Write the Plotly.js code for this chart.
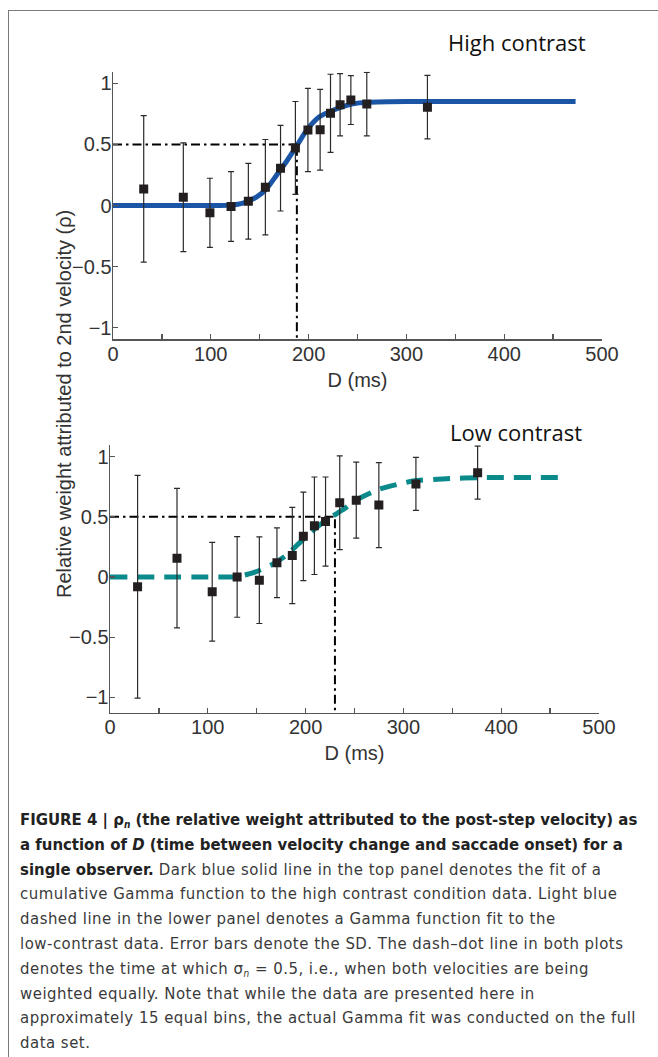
<!DOCTYPE html>
<html>
<head>
<meta charset="utf-8">
<script src="https://cdn.plot.ly/plotly-3.0.1.min.js"></script>
<style>
  html, body { margin: 0; padding: 0; background: #fff; }
  #wrap { position: relative; width: 658px; height: 1057px; overflow: hidden; }
  #chart { position: absolute; left: 0; top: 0; width: 658px; height: 1057px; }
  #frameTop { position: absolute; left: 8px; top: 10px; width: 650px; height: 0; border-top: 1.3px solid #7a7a7a; }
  #frameLeft { position: absolute; left: 8px; top: 10px; width: 0; height: 1047px; border-left: 1.3px solid #7a7a7a; }
  #caption { position: absolute; left: 20px; top: 808px; width: 634px;
             font-family: "Liberation Sans Narrow", "DejaVu Sans Condensed", sans-serif;
             font-size: 16.6px; line-height: 24.8px; color: #3a3a3a; white-space: nowrap; }
  #caption b { color: #222; letter-spacing: 0; }
  #caption .r { letter-spacing: 0.5px; }
  #caption sub { font-size: 10px; vertical-align: -3px; line-height: 0; }
</style>
</head>
<body>
<div id="wrap">
  <div id="chart"></div>
  <div id="frameTop"></div>
  <div id="frameLeft"></div>
  <div id="caption">
    <b>FIGURE 4 | ρ<sub><i>n</i></sub> (the relative weight attributed to the post-step velocity) as</b><br>
    <b>a function of <i>D</i> (time between velocity change and saccade onset) for a</b><br>
    <b>single observer.</b><span class="r"> Dark blue solid line in the top panel denotes the fit of a</span><br>
    <span class="r">cumulative Gamma function to the high contrast condition data. Light blue</span><br>
    <span class="r">dashed line in the lower panel denotes a Gamma function fit to the</span><br>
    <span class="r">low-contrast data. Error bars denote the SD. The dash–dot line in both plots</span><br>
    <span class="r">denotes the time at which σ<sub><i>n</i></sub> = 0.5, i.e., when both velocities are being</span><br>
    <span class="r">weighted equally. Note that while the data are presented here in</span><br>
    <span class="r">approximately 15 equal bins, the actual Gamma fit was conducted on the full</span><br>
    <span class="r">data set.</span>
  </div>
</div>
<script>
// ---- High contrast (top panel) ----
var highD   = [31.4, 71.9, 99.1, 120.7, 138.4, 155.8, 171.3, 186.5, 199.3, 211.8, 222.4, 232.2, 243.2, 259.5, 321.5];
var highRho = [0.136, 0.068, -0.06, -0.008, 0.035, 0.15, 0.305, 0.471, 0.618, 0.62, 0.754, 0.824, 0.863, 0.83, 0.805];
var highSD  = [0.60, 0.445, 0.283, 0.285, 0.31, 0.39, 0.35, 0.38, 0.34, 0.33, 0.32, 0.255, 0.20, 0.26, 0.26];
var highFitD   = [0, 110, 120, 133, 147, 157, 167, 177, 188, 198, 211, 225, 239, 252, 270, 300, 473];
var highFitRho = [0, 0, 0.003, 0.02, 0.07, 0.137, 0.246, 0.356, 0.49, 0.616, 0.726, 0.78, 0.82, 0.84, 0.848, 0.852, 0.852];
var highHalfD = 188;

// ---- Low contrast (bottom panel) ----
var lowD   = [28.2, 68.5, 104.5, 130, 152.7, 170.7, 186.4, 197.7, 209, 220.4, 234.9, 251.8, 274.9, 312.8, 375.9];
var lowRho = [-0.082, 0.156, -0.123, 0, -0.027, 0.118, 0.178, 0.337, 0.425, 0.46, 0.616, 0.638, 0.597, 0.773, 0.866];
var lowSD  = [0.925, 0.58, 0.41, 0.335, 0.36, 0.29, 0.40, 0.367, 0.405, 0.37, 0.39, 0.315, 0.353, 0.22, 0.22];
var lowFitD   = [0, 125, 130, 146.5, 165, 180.4, 195.9, 211, 224.8, 242, 252, 276, 310, 344, 378, 465];
var lowFitRho = [0, 0, 0.002, 0.035, 0.1, 0.18, 0.30, 0.41, 0.49, 0.58, 0.64, 0.73, 0.797, 0.816, 0.825, 0.825];
var lowHalfD = 230;

// ---- Axis ticks ----
var yTickVals = [-1, -0.5, 0, 0.5, 1];
var yTickText = ['\u22121', '\u22120.5', '0', '0.5', '1'];
var xTickVals = [0, 100, 200, 300, 400, 500];

var W = 658, H = 1057;
function px(x) { return x / W; }
function py(y) { return 1 - y / H; }

var markColor = '#231f20';
var dashDot = '9px,4px,2.5px,4px';

function panelTraces(xa, ya, fitD, fitRho, fitLine, halfD, d, rho, sd, yMin) {
  return [
    { x: fitD, y: fitRho, xaxis: xa, yaxis: ya, mode: 'lines', type: 'scatter',
      line: fitLine, hoverinfo: 'skip', showlegend: false },
    { x: [0, halfD], y: [0.5, 0.5], xaxis: xa, yaxis: ya, mode: 'lines', type: 'scatter',
      line: { color: '#000', width: 2, dash: dashDot }, showlegend: false },
    { x: [halfD, halfD], y: [0.48, yMin], xaxis: xa, yaxis: ya, mode: 'lines', type: 'scatter',
      line: { color: '#000', width: 2, dash: dashDot }, showlegend: false },
    { x: d, y: rho, xaxis: xa, yaxis: ya, mode: 'markers', type: 'scatter',
      marker: { symbol: 'square', size: 9, color: markColor },
      error_y: { type: 'data', array: sd, visible: true, color: '#2a2a2a', thickness: 1.2, width: 3 },
      showlegend: false }
  ];
}

var data = []
  .concat(panelTraces('x', 'y', highFitD, highFitRho,
      { color: '#1a55a6', width: 5, shape: 'spline', smoothing: 0.6 },
      highHalfD, highD, highRho, highSD, -1.095))
  .concat(panelTraces('x2', 'y2', lowFitD, lowFitRho,
      { color: '#0b8a8c', width: 5, dash: '17px,10px', shape: 'spline', smoothing: 0.6 },
      lowHalfD, lowD, lowRho, lowSD, -1.128));

var sansFont = 'Liberation Sans, Arial, Helvetica, sans-serif';
var tickFont = { family: sansFont, size: 20, color: '#333' };
function xAxis(domain, anchor) {
  return {
    domain: domain, anchor: anchor, range: [0, 500], showgrid: false, zeroline: false,
    showline: true, linecolor: '#555', linewidth: 1.5,
    tickmode: 'array', tickvals: xTickVals, ticks: 'inside', ticklen: 5, tickcolor: '#555', tickwidth: 1.2,
    minor: { dtick: 50, tick0: 0, ticks: 'inside', ticklen: 5, tickcolor: '#555', tickwidth: 1.2 },
    tickfont: tickFont, ticklabelstandoff: -4, fixedrange: true,
    title: { text: 'D (ms)', font: { family: sansFont, size: 20, color: '#333' }, standoff: 9 }
  };
}
function yAxis(domain, anchor, range) {
  return {
    domain: domain, anchor: anchor, range: range, showgrid: false, zeroline: false,
    showline: true, linecolor: '#555', linewidth: 1.5,
    tickmode: 'array', tickvals: yTickVals, ticktext: yTickText,
    ticks: 'inside', ticklen: 5, tickcolor: '#555', tickwidth: 1.2,
    tickfont: tickFont, ticklabelstandoff: -4, fixedrange: true
  };
}

var layout = {
  width: W, height: H,
  margin: { l: 0, r: 0, t: 0, b: 0 },
  paper_bgcolor: '#fff', plot_bgcolor: 'rgba(0,0,0,0)',
  showlegend: false,
  xaxis:  xAxis([px(113), px(602)], 'y'),
  yaxis:  yAxis([py(339.3), py(71.7)], 'x', [-1.095, 1.095]),
  xaxis2: xAxis([px(110), px(599)], 'y2'),
  yaxis2: yAxis([py(712.7), py(445)], 'x2', [-1.128, 1.096]),
  annotations: [
    { text: 'High contrast', xref: 'paper', yref: 'paper', x: px(517), y: py(42),
      xanchor: 'center', yanchor: 'middle', showarrow: false,
      font: { family: 'Open Sans, sans-serif', size: 22, color: '#111' } },
    { text: 'Low contrast', xref: 'paper', yref: 'paper', x: px(516), y: py(432),
      xanchor: 'center', yanchor: 'middle', showarrow: false,
      font: { family: 'Open Sans, sans-serif', size: 22, color: '#111' } },
    { text: 'Relative weight attributed to 2nd velocity (\u03c1)', xref: 'paper', yref: 'paper',
      x: px(64), y: py(404), xanchor: 'center', yanchor: 'middle', textangle: -90, showarrow: false,
      font: { family: sansFont, size: 20, color: '#333' } }
  ]
};

Plotly.newPlot('chart', data, layout, { displayModeBar: false, staticPlot: true });
</script>
</body>
</html>
